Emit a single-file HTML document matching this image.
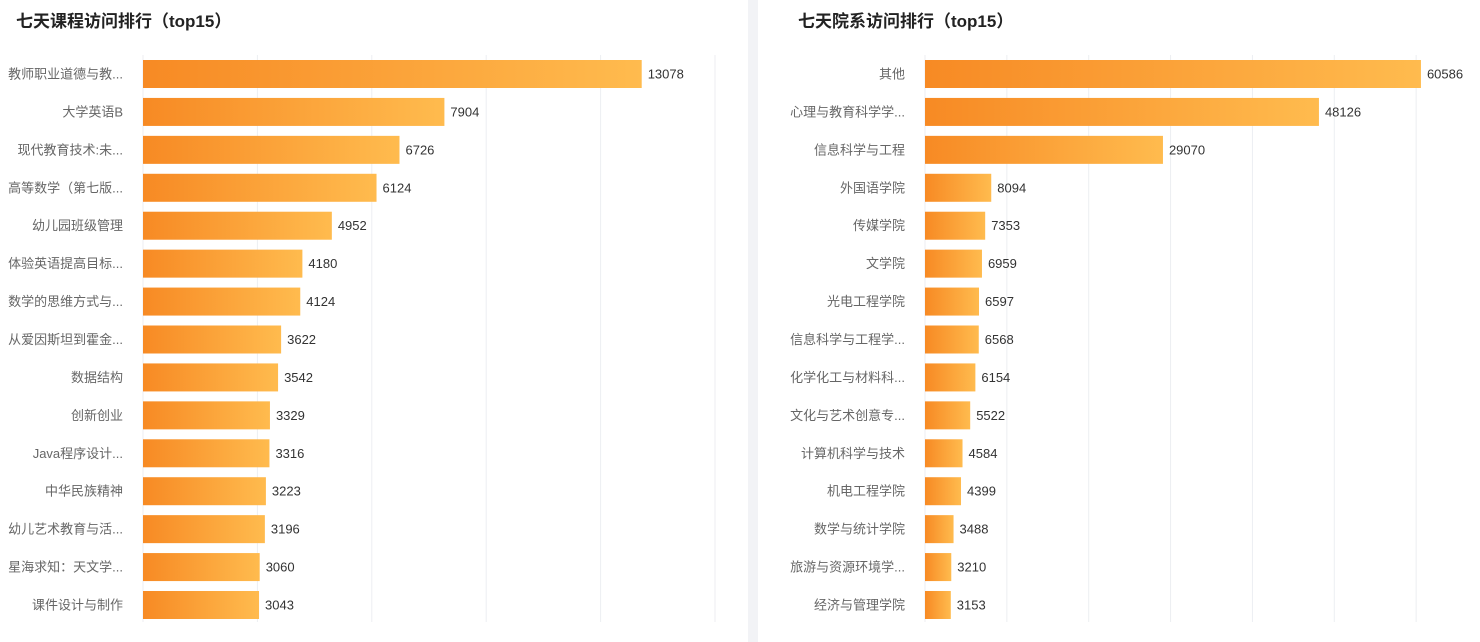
<!DOCTYPE html>
<html><head><meta charset="utf-8"><style>
body{margin:0;width:1480px;height:642px;background:#f2f3f6;overflow:hidden;font-family:"Liberation Sans","Noto Sans CJK SC",sans-serif}
.panel{position:absolute;top:0;height:642px;background:#fff;overflow:hidden}
</style></head><body>
<div class="panel" style="left:0;width:748px"><svg id="c1" width="748" height="642"></svg></div>
<div class="panel" style="left:758px;width:722px"><svg id="c2" width="722" height="642"></svg></div>
<script>
const courseNames=["教师职业道德与教...","大学英语B","现代教育技术:未...","高等数学（第七版...","幼儿园班级管理","体验英语提高目标...","数学的思维方式与...","从爱因斯坦到霍金...","数据结构","创新创业","Java程序设计...","中华民族精神","幼儿艺术教育与活...","星海求知：天文学...","课件设计与制作"];
const courseValues=[13078,7904,6726,6124,4952,4180,4124,3622,3542,3329,3316,3223,3196,3060,3043];
const deptNames=["其他","心理与教育科学学...","信息科学与工程","外国语学院","传媒学院","文学院","光电工程学院","信息科学与工程学...","化学化工与材料科...","文化与艺术创意专...","计算机科学与技术","机电工程学院","数学与统计学院","旅游与资源环境学...","经济与管理学院"];
const deptValues=[60586,48126,29070,8094,7353,6959,6597,6568,6154,5522,4584,4399,3488,3210,3153];
const NS="http://www.w3.org/2000/svg";
function mk(svg,tag,attrs){const e=document.createElementNS(NS,tag);for(const k in attrs)e.setAttribute(k,attrs[k]);svg.appendChild(e);return e;}
function draw(id,title,titleX,names,values,x0,axMax,step,axW){
  const svg=document.getElementById(id);
  const defs=mk(svg,'defs',{});
  const g=document.createElementNS(NS,'linearGradient');g.setAttribute('id',id+'g');g.setAttribute('x1','0');g.setAttribute('x2','1');g.setAttribute('y1','0');g.setAttribute('y2','0');
  g.innerHTML='<stop offset="0" stop-color="#f78a24"/><stop offset="1" stop-color="#ffbb4e"/>';defs.appendChild(g);
  const t=mk(svg,'text',{x:titleX,y:27,'font-size':17,'font-weight':'bold',fill:'#222'});t.textContent=title;
  
  
  const sx=v=>x0+v/axMax*axW;
  for(let v=0;v<=axMax;v+=step){const l=mk(svg,'line',{x1:sx(v),x2:sx(v),y1:55,y2:622,stroke:'#eceef2','stroke-width':1});
    
    }
  const y0=74,dy=(605-74)/14;
  names.forEach((n,i)=>{
    const cy=y0+i*dy;
    const lb=mk(svg,'text',{x:x0-20,y:cy+4.5,'font-size':13,fill:'#666','text-anchor':'end'});lb.textContent=n;
    
    
    const r=mk(svg,'rect',{x:x0,y:cy-14,width:sx(values[i])-x0,height:28,fill:'url(#'+id+'g)'});
    
    
    const vl=mk(svg,'text',{x:sx(values[i])+6,y:cy+4.5,'font-size':13,fill:'#333'});vl.textContent=values[i];
    
    
  });
}
draw('c1','七天课程访问排行（top15）',16,courseNames,courseValues,143,15000,3000,572);
draw('c2','七天院系访问排行（top15）',40,deptNames,deptValues,167,70000,10000,573);
</script>
</body></html>
